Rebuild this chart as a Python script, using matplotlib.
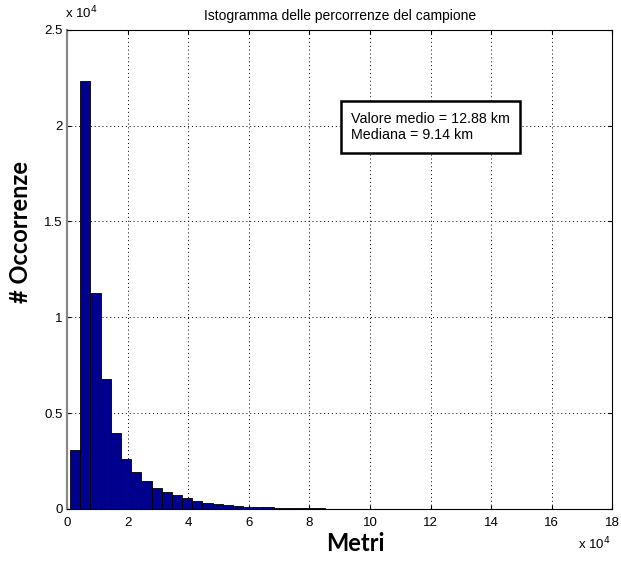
import numpy as np
import matplotlib.pyplot as plt
from matplotlib.ticker import FuncFormatter

# histogram counts (50 bins between min and max trip length, metres)
dist_min = 1000
dist_max = 169000
counts = [3080, 22300, 11260, 6800, 3980, 2590, 1900, 1440, 1110, 900,
          720, 550, 400, 310, 240, 190, 150, 120, 95, 75,
          60, 45, 35, 25, 20, 15, 10, 8, 6, 4,
          3, 0, 2, 1, 0, 0, 1, 2, 1, 0,
          1, 0, 0, 1, 0, 0, 0, 0, 0, 1]
mean_km = 12.88
median_km = 9.14

title = "Istogramma delle percorrenze del campione"
xlabel = "Metri"
ylabel = "# Occorrenze"

edges = np.linspace(dist_min, dist_max, len(counts) + 1)
width = edges[1] - edges[0]

plt.rcParams['font.family'] = ['Liberation Sans', 'DejaVu Sans']

fig = plt.figure(figsize=(6.21, 5.61), dpi=100)
ax = fig.add_axes([0.108, 0.093, 0.878, 0.854])

ax.bar(edges[:-1], counts, width=width, align='edge',
       color='#00008F', edgecolor='black', linewidth=0.6, zorder=3)

ax.set_xlim(0, 180000)
ax.set_ylim(0, 25000)
ax.set_xticks(np.arange(0, 180001, 20000))
ax.set_yticks(np.arange(0, 25001, 5000))
ax.xaxis.set_major_formatter(FuncFormatter(lambda v, p: f"{v / 1e4:g}"))
ax.yaxis.set_major_formatter(FuncFormatter(lambda v, p: f"{v / 1e4:g}"))
ax.tick_params(direction='in', length=3, labelsize=9.5, top=True, right=True,
               color='black')
ax.tick_params(axis='x', pad=6)
ax.tick_params(axis='y', pad=3)
ax.grid(True, linestyle=(0, (1, 3)), color='black', linewidth=0.7, zorder=0)

for side in ['top', 'right', 'bottom']:
    ax.spines[side].set_color('black')
    ax.spines[side].set_zorder(4)
ax.spines['left'].set_color('#888888')
ax.spines['left'].set_linewidth(1.6)

ax.set_title(title, fontsize=10, pad=7)
ax.set_xlabel(xlabel, fontsize=17, fontweight='bold', family=['Lato', 'DejaVu Sans'])
ax.set_ylabel(ylabel, fontsize=17, fontweight='bold', family=['Lato', 'DejaVu Sans'])
ax.xaxis.set_label_coords(0.528, -0.048)
ax.yaxis.set_label_coords(-0.086, 0.578)
ax.yaxis.label.set_va('center')

# scale factors
fig.text(0.104, 0.962, r"x 10$^4$", fontsize=9.5, ha='left', va='bottom')
fig.text(0.930, 0.015, r"x 10$^4$", fontsize=9.5, ha='left', va='bottom')

ax.text(0.521, 0.797,
        f"Valore medio = {mean_km:.2f} km\nMediana = {median_km:.2f} km",
        transform=ax.transAxes, fontsize=10.3, ha='left', va='center',
        linespacing=1.25, zorder=5,
        bbox=dict(boxstyle='square,pad=0.72', facecolor='white',
                  edgecolor='black', linewidth=1.8))

fig.savefig("out.png", dpi=100)
